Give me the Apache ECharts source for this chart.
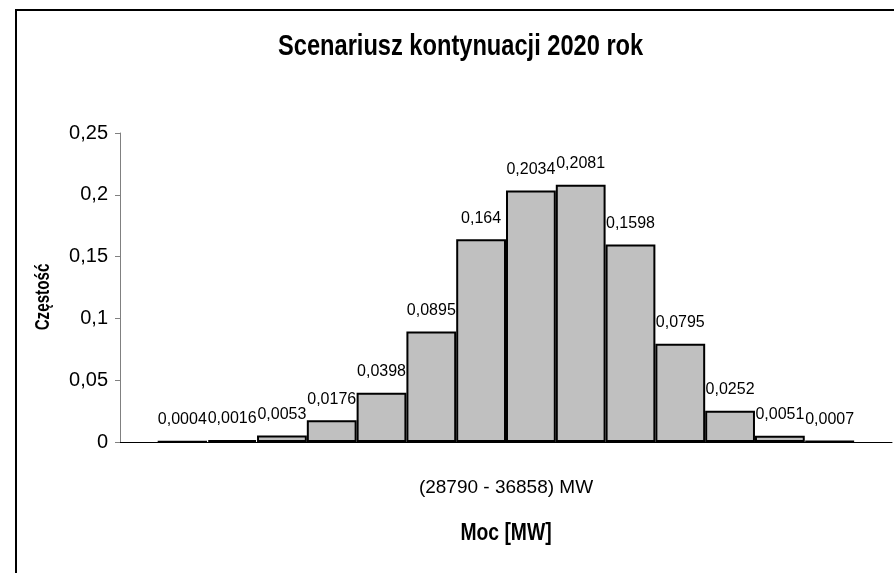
<!DOCTYPE html>
<html lang="pl">
<head>
    <meta charset="UTF-8">
    <title>Scenariusz kontynuacji 2020 rok</title>
    <style>
        html, body { margin: 0; padding: 0; background: #fff; }
    </style>
</head>
<body>
    <div id="main" style="width: 894px;height:573px;"></div>

    <script src="https://cdn.jsdelivr.net/npm/echarts@6/dist/echarts.min.js"></script>
    <script type="text/javascript">
        // dane
        var categories = ['(28790 - 36858) MW'];
        var freq = [0.0004, 0.0016, 0.0053, 0.0176, 0.0398, 0.0895, 0.164,
                    0.2034, 0.2081, 0.1598, 0.0795, 0.0252, 0.0051, 0.0007];
        var yMin = 0, yMax = 0.25, yStep = 0.05;

        var font = '"Liberation Sans", Arial, sans-serif';
        var comma = function (v) { return String(v).replace('.', ','); };

        var myChart = echarts.init(document.getElementById('main'));

        // jedna kategoria, kazdy przedzial to osobna seria (jak w Excelu)
        var series = freq.map(function (v, i) {
            return {
                type: 'bar',
                name: 'k' + i,
                data: [v],
                barGap: '0%',
                barCategoryGap: '9.7%',
                itemStyle: { color: '#c0c0c0', borderColor: '#000', borderWidth: 2 },
                label: {
                    show: true,
                    position: 'top',
                    distance: 13,
                    color: '#000',
                    fontFamily: font,
                    fontSize: 16,
                    formatter: function (p) { return comma(p.value); }
                }
            };
        });

        // teksty waskie jak w oryginale (Arial sciesniony)
        var narrowText = function (txt, x, y, size, sx, align, vAlign, rot) {
            return {
                type: 'text',
                x: x,
                y: y,
                rotation: rot || 0,
                scaleX: sx,
                style: {
                    text: txt,
                    align: align,
                    verticalAlign: vAlign,
                    fontFamily: font,
                    fontSize: size,
                    fontWeight: 'bold',
                    fill: '#000'
                }
            };
        };

        var option = {
            animation: false,
            backgroundColor: '#fff',
            graphic: [{
                type: 'rect',
                shape: { x: 16, y: 10, width: 900, height: 600 },
                style: { fill: 'none', stroke: '#000', lineWidth: 2 }
            },
                narrowText('Scenariusz kontynuacji 2020 rok', 278, 32, 29, 0.815, 'left', 'top'),
                narrowText('Częstość', 43, 297, 20, 0.76, 'center', 'middle', Math.PI / 2),
                narrowText('Moc [MW]', 506, 534, 23, 0.84, 'center', 'middle')
            ],
            grid: { left: 120, right: 2, top: 133, bottom: 131 },
            xAxis: {
                type: 'category',
                data: categories,
                axisLine: { lineStyle: { color: '#000', width: 1 } },
                axisTick: { length: 8, lineStyle: { color: '#000' } },
                axisLabel: { margin: 36, fontFamily: font, fontSize: 19, color: '#000' }
            },
            yAxis: {
                type: 'value',
                min: yMin,
                max: yMax,
                interval: yStep,
                splitLine: { show: false },
                axisLine: { show: true, lineStyle: { color: '#808080', width: 1 } },
                axisTick: { show: true, length: 5, lineStyle: { color: '#808080' } },
                axisLabel: { margin: 12, fontFamily: font, fontSize: 20, color: '#000',
                    formatter: function (v) { return comma(v); } }
            },
            series: series
        };
        myChart.setOption(option);
    </script>
</body>
</html>
